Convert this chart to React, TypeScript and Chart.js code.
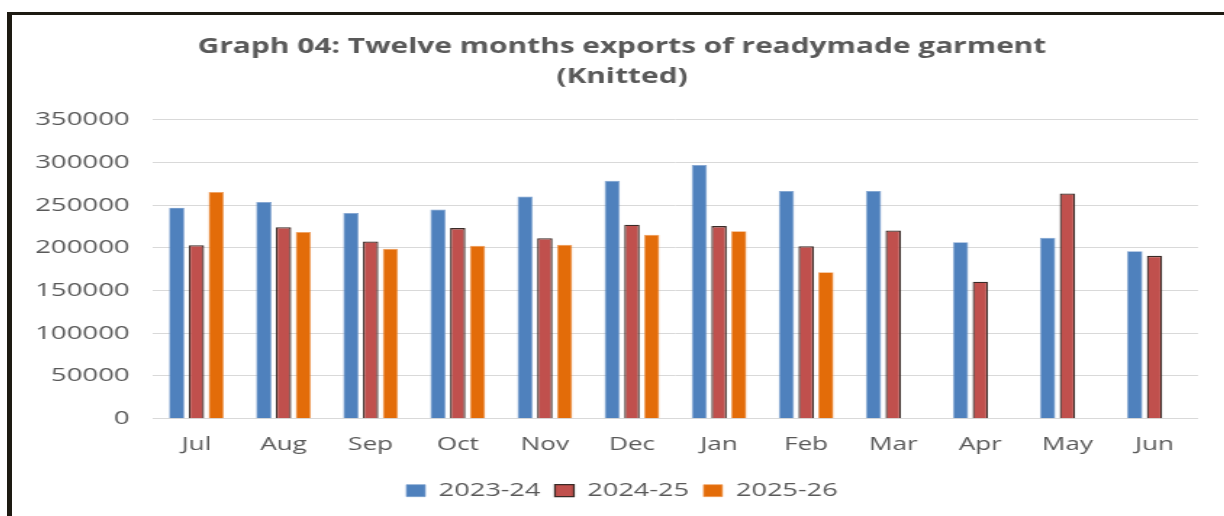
import React, { useEffect, useRef } from 'react';
import { Chart, registerables } from 'chart.js';

Chart.register(...registerables);

const months = ['Jul', 'Aug', 'Sep', 'Oct', 'Nov', 'Dec', 'Jan', 'Feb', 'Mar', 'Apr', 'May', 'Jun'];
const fy2324 = [247000, 253700, 240700, 244700, 260000, 278400, 296800, 266600, 266600, 206600, 211800, 196000];
const fy2425 = [203000, 224200, 207400, 223100, 211300, 227100, 225400, 201900, 220400, 160400, 263500, 190600];
const fy2526 = [265400, 218400, 198800, 202400, 203500, 215300, 219500, 171300, null, null, null, null];
const seriesLabels = ['2023-24', '2024-25', '2025-26'];
const titleLines = ['Graph 04: Twelve months exports of readymade garment', '(Knitted)'];

const SX = 1.45;
const INNER_W = 1220 / SX;
const INNER_H = 501;
const RIGHT_GAP = (1232 - 1198) / SX;
const FONT = "'Open Sans', 'DejaVu Sans', sans-serif";
const TEXT = '#595959';

export default function App() {
  const ref = useRef<HTMLCanvasElement | null>(null);

  useEffect(() => {
    if (!ref.current) return;
    const chart = new Chart(ref.current, {
      type: 'bar',
      data: {
        labels: months,
        datasets: [
          {
            label: seriesLabels[0],
            data: fy2324,
            backgroundColor: '#4F81BD',
            borderColor: '#7da0cf',
            borderWidth: 0.7,
            yAxisID: 'y',
          },
          {
            label: seriesLabels[1],
            data: fy2425,
            backgroundColor: '#C0504D',
            borderColor: '#3a2b27',
            borderWidth: 1.3,
            yAxisID: 'y',
          },
          {
            label: seriesLabels[2],
            data: fy2526,
            backgroundColor: '#E36C09',
            borderColor: '#f0a060',
            borderWidth: 0.7,
            yAxisID: 'y',
          },
        ],
      },
      options: {
        responsive: true,
        maintainAspectRatio: false,
        animation: false,
        datasets: {
          bar: {
            categoryPercentage: 0.68,
            barPercentage: 0.78,
          },
        },
        layout: {
          padding: { left: 0, right: 0, top: 0, bottom: 6 },
        },
        plugins: {
          title: {
            display: true,
            text: titleLines,
            color: TEXT,
            font: { family: FONT, size: 20.6, weight: 'bold', lineHeight: 1.46 },
            padding: { top: 17, bottom: 27.5 },
          },
          legend: {
            display: true,
            position: 'bottom',
            labels: {
              color: TEXT,
              font: { family: FONT, size: 18.7 },
              boxWidth: 13,
              boxHeight: 12,
              padding: 10,
            },
          },
          tooltip: { enabled: false },
        },
        scales: {
          x: {
            grid: { display: false, drawTicks: false },
            border: { display: true, color: '#d9d9d9', width: 1 },
            ticks: {
              color: TEXT,
              font: { family: FONT, size: 18 },
              padding: 15.5,
              maxRotation: 0,
            },
          },
          y: {
            min: 0,
            max: 350000,
            grid: { color: '#d9d9d9', lineWidth: 1, drawTicks: false },
            border: { display: false },
            ticks: {
              stepSize: 50000,
              color: TEXT,
              font: { family: FONT, size: 19 },
              padding: 16,
              callback: (v: any) => String(v),
            },
          },
          yGap: {
            type: 'linear',
            position: 'right',
            display: true,
            grid: { display: false, drawTicks: false },
            border: { display: false },
            ticks: { display: false },
            afterFit: (s: any) => {
              s.width = RIGHT_GAP;
            },
          },
        },
      },
    });
    return () => chart.destroy();
  }, []);

  return (
    <div style={{ position: 'absolute', left: 0, top: 0, width: 1224, height: 516, overflow: 'hidden', background: '#fff' }}>
      <div
        style={{
          position: 'absolute',
          left: 7,
          top: 12,
          width: 1300,
          height: 600,
          borderTop: '3px solid #1d1a12',
          borderLeft: '5px solid #1d1a12',
        }}
      />
      <div
        style={{
          position: 'absolute',
          left: 12,
          top: 15,
          width: INNER_W,
          height: INNER_H,
          transform: `scaleX(${SX})`,
          transformOrigin: 'left top',
        }}
      >
        <canvas ref={ref} />
      </div>
    </div>
  );
}
